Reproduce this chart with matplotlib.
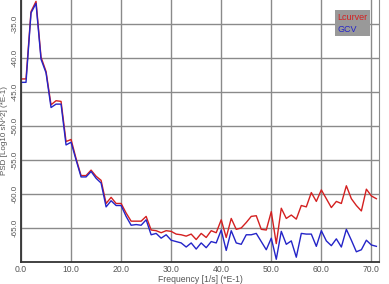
import matplotlib
matplotlib.use('Agg')
import matplotlib.pyplot as plt

plt.rcParams['font.family'] = ['Liberation Sans', 'DejaVu Sans']

freq = list(range(72))  # (*E-1)

lcurver = [-43.1, -43.1, -33.2, -31.7, -39.9, -42.0, -46.9, -46.3, -46.4, -52.3,
           -52.0, -54.8, -57.3, -57.3, -56.5, -57.4, -58.0, -61.4, -60.5, -61.4,
           -61.4, -62.8, -64.0, -64.0, -64.0, -63.3, -65.3, -65.4, -65.7, -65.4,
           -65.5, -65.9, -66.0, -66.2, -65.9, -66.7, -65.8, -66.4, -65.4, -65.7,
           -63.8, -66.4, -63.6, -65.2, -65.0, -64.2, -63.3, -63.2, -65.2, -65.3,
           -62.6, -67.3, -62.1, -63.6, -63.1, -63.7, -61.7, -61.9, -59.8, -61.1,
           -59.4, -60.7, -62.0, -61.1, -61.4, -58.8, -60.7, -61.7, -62.5, -59.3,
           -60.3, -60.7]

gcv = [-43.6, -43.6, -33.4, -32.0, -40.2, -42.2, -47.3, -46.8, -46.8, -52.8,
       -52.4, -55.0, -57.5, -57.5, -56.7, -57.7, -58.4, -61.9, -61.0, -61.7,
       -61.7, -63.3, -64.6, -64.5, -64.6, -63.8, -66.0, -65.8, -66.5, -66.0,
       -66.8, -67.0, -67.2, -67.8, -67.2, -68.1, -67.2, -67.9, -67.0, -67.2,
       -65.3, -68.3, -65.4, -67.2, -67.4, -66.0, -66.0, -65.8, -67.0, -68.2,
       -66.5, -69.6, -65.5, -67.4, -66.9, -69.3, -65.8, -65.9, -65.9, -67.7,
       -65.4, -66.9, -67.6, -66.6, -67.8, -65.2, -66.8, -68.5, -68.2, -66.8,
       -67.5, -67.7]

xticks = [0, 10, 20, 30, 40, 50, 60, 70]
yticks = [-65, -60, -55, -50, -45, -40, -35]

fig = plt.figure(figsize=(3.89, 2.84), dpi=100)
ax = fig.add_axes([0.054, 0.0775, 0.92, 0.9225])

ax.plot(freq, lcurver, color='#d42020', lw=1.0, label='Lcurver')
ax.plot(freq, gcv, color='#2424c8', lw=1.0, label='GCV')

ax.set_xlim(0, 71.5)
ax.set_ylim(-70, -31.5)
ax.set_xticks(xticks)
ax.set_xticklabels([f'{t:.1f}' for t in xticks])
ax.set_yticks(yticks)
ax.set_yticklabels([f'{t:.1f}' for t in yticks], rotation=90, va='center')
ax.tick_params(length=0, labelsize=6.2, colors='#555555')
ax.tick_params(axis='x', pad=2.5)
ax.tick_params(axis='y', labelsize=5.8, pad=1.8)
ax.grid(True, color='#8a8a8a', lw=1.0)
ax.set_axisbelow(True)

ax.spines['top'].set_visible(False)
ax.spines['right'].set_color('#8a8a8a')
ax.spines['left'].set_color('#333333')
ax.spines['bottom'].set_color('#333333')
ax.spines['left'].set_linewidth(1.3)
ax.spines['bottom'].set_linewidth(1.3)

ax.set_xlabel('Frequency [1/s] (*E-1)', fontsize=6.2, color='#555555', va='center')
ax.xaxis.set_label_coords(0.5, -0.066)
ax.set_ylabel('PSD [Log10 sN^2] (*E-1)', fontsize=5.8, color='#555555', va='center')
ax.yaxis.set_label_coords(-0.046, 0.5)

leg = ax.legend(loc='upper right', bbox_to_anchor=(0.975, 0.96), handlelength=0,
                handletextpad=0, labelcolor='linecolor', fontsize=6.5,
                facecolor='#999999', edgecolor='none', framealpha=1,
                fancybox=False, borderpad=0.25, labelspacing=0.35,
                borderaxespad=0)
for h in leg.legend_handles:
    h.set_visible(False)

fig.savefig('out.png', dpi=100)
